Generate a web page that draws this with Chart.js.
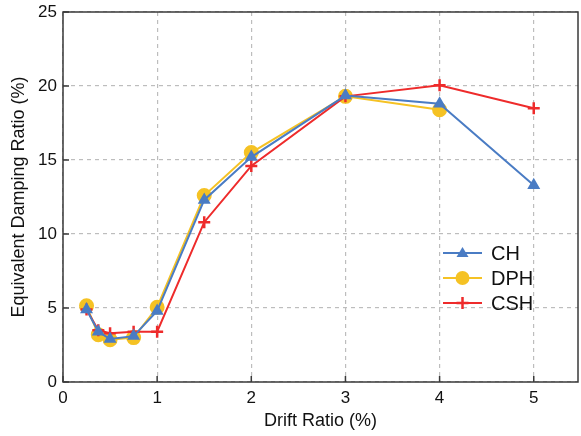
<!DOCTYPE html>
<html>
<head>
<meta charset="utf-8">
<script src="https://cdn.jsdelivr.net/npm/chart.js@4/dist/chart.umd.min.js"></script>
<style>
  html, body { margin: 0; padding: 0; background: #fff; }
  #wrap { width: 581px; height: 436px; }
</style>
</head>
<body>
<div id="wrap"><canvas id="dampChart" width="581" height="436"></canvas></div>
<script>
const driftCH = [0.25, 0.375, 0.5, 0.75, 1, 1.5, 2, 3, 4, 5];
const dampCH = [4.9, 3.4, 2.9, 3.1, 4.8, 12.3, 15.2, 19.35, 18.8, 13.3];

const driftDPH = [0.25, 0.375, 0.5, 0.75, 1, 1.5, 2, 3, 4];
const dampDPH = [5.15, 3.2, 2.85, 3.0, 5.05, 12.6, 15.5, 19.3, 18.4];

const driftCSH = [0.25, 0.375, 0.5, 0.75, 1, 1.5, 2, 3, 4, 5];
const dampCSH = [4.9, 3.5, 3.3, 3.4, 3.4, 10.8, 14.6, 19.3, 20.05, 18.5];

const xTicks = [0, 1, 2, 3, 4, 5];
const yTicks = [0, 5, 10, 15, 20, 25];

const toXY = (xs, ys) => xs.map((x, i) => ({ x: x, y: ys[i] }));

const FONT = '"Liberation Sans", Arial, sans-serif';

// frame box + inward ticks + legend with line/marker samples
const framePlugin = {
    id: 'frame',
    afterDraw(chart) {
        const { ctx, chartArea: a, scales } = chart;
        ctx.save();
        ctx.strokeStyle = '#3a3a3a';
        ctx.lineWidth = 1.5;
        ctx.strokeRect(a.left, a.top, a.right - a.left, a.bottom - a.top);

        ctx.beginPath();
        xTicks.forEach(v => {
            const px = scales.x.getPixelForValue(v);
            ctx.moveTo(px, a.bottom);
            ctx.lineTo(px, a.bottom - 6);
        });
        yTicks.forEach(v => {
            const py = scales.y.getPixelForValue(v);
            ctx.moveTo(a.left, py);
            ctx.lineTo(a.left + 6, py);
        });
        ctx.stroke();

        // legend
        const lx = a.left + 380, ly = a.top + 241, gap = 25;
        chart.data.datasets.forEach((ds, i) => {
            const y = ly + i * gap;
            ctx.strokeStyle = ds.borderColor;
            ctx.lineWidth = 2;
            ctx.beginPath();
            ctx.moveTo(lx, y);
            ctx.lineTo(lx + 39, y);
            ctx.stroke();
            const cx = lx + 19.5;
            ctx.fillStyle = ds.pointBackgroundColor;
            ctx.strokeStyle = ds.pointBorderColor;
            if (ds.pointStyle === 'triangle') {
                ctx.beginPath();
                ctx.moveTo(cx, y - 6);
                ctx.lineTo(cx + 6, y + 4);
                ctx.lineTo(cx - 6, y + 4);
                ctx.closePath();
                ctx.fill();
            } else if (ds.pointStyle === 'circle') {
                ctx.beginPath();
                ctx.arc(cx, y, 7, 0, Math.PI * 2);
                ctx.fill();
            } else {
                ctx.lineWidth = 2.5;
                ctx.beginPath();
                ctx.moveTo(cx - 6, y);
                ctx.lineTo(cx + 6, y);
                ctx.moveTo(cx, y - 6);
                ctx.lineTo(cx, y + 6);
                ctx.stroke();
            }
            ctx.fillStyle = '#111';
            ctx.font = '20px ' + FONT;
            ctx.textBaseline = 'middle';
            ctx.textAlign = 'left';
            ctx.fillText(ds.label, lx + 48, y + 1);
        });
        ctx.restore();
    }
};

new Chart(document.getElementById('dampChart'), {
    type: 'line',
    data: {
        datasets: [{
            label: 'CH',
            data: toXY(driftCH, dampCH),
            borderColor: '#4a7cc4',
            backgroundColor: '#4a7cc4',
            pointBackgroundColor: '#4a7cc4',
            pointBorderColor: '#4a7cc4',
            pointStyle: 'triangle',
            pointRadius: 5.5,
            borderWidth: 2,
            order: 1
        }, {
            label: 'DPH',
            data: toXY(driftDPH, dampDPH),
            borderColor: '#f5c224',
            backgroundColor: '#f5c224',
            pointBackgroundColor: '#f5c224',
            pointBorderColor: '#f5c224',
            pointStyle: 'circle',
            pointRadius: 6.5,
            borderWidth: 2,
            order: 3
        }, {
            label: 'CSH',
            data: toXY(driftCSH, dampCSH),
            borderColor: '#ee2b2b',
            backgroundColor: '#ee2b2b',
            pointBackgroundColor: '#ee2b2b',
            pointBorderColor: '#ee2b2b',
            pointStyle: 'cross',
            pointRadius: 6,
            pointBorderWidth: 2.5,
            borderWidth: 2,
            order: 2
        }]
    },
    options: {
        responsive: false,
        animation: false,
        layout: { autoPadding: false, padding: { top: 12, right: 3, left: 0, bottom: 0 } },
        plugins: {
            legend: { display: false },
            tooltip: { enabled: false }
        },
        scales: {
            x: {
                type: 'linear',
                min: 0,
                max: 5.47,
                afterBuildTicks: s => { s.ticks = xTicks.map(v => ({ value: v })); },
                afterFit: s => { s.height = 54; s.paddingLeft = 0; s.paddingRight = 0; },
                ticks: { color: '#111', font: { size: 17, family: FONT }, padding: 6 },
                grid: { color: '#bdbdbd', lineWidth: 1.2, drawTicks: false },
                border: { display: false, dash: [4, 4] },
                title: { display: true, text: 'Drift Ratio (%)', color: '#111', font: { size: 18, family: FONT }, padding: { top: 0 } }
            },
            y: {
                min: 0,
                max: 25,
                afterBuildTicks: s => { s.ticks = yTicks.map(v => ({ value: v })); },
                afterFit: s => { s.width = 63; s.paddingTop = 0; s.paddingBottom = 0; },
                ticks: { color: '#111', font: { size: 17, family: FONT }, padding: 6 },
                grid: { color: '#bdbdbd', lineWidth: 1.2, drawTicks: false },
                border: { display: false, dash: [4, 4] },
                title: { display: true, text: 'Equivalent Damping Ratio (%)', color: '#111', font: { size: 18, family: FONT }, padding: { top: 8, bottom: 0 } }
            }
        }
    },
    plugins: [framePlugin]
});
</script>
</body>
</html>
